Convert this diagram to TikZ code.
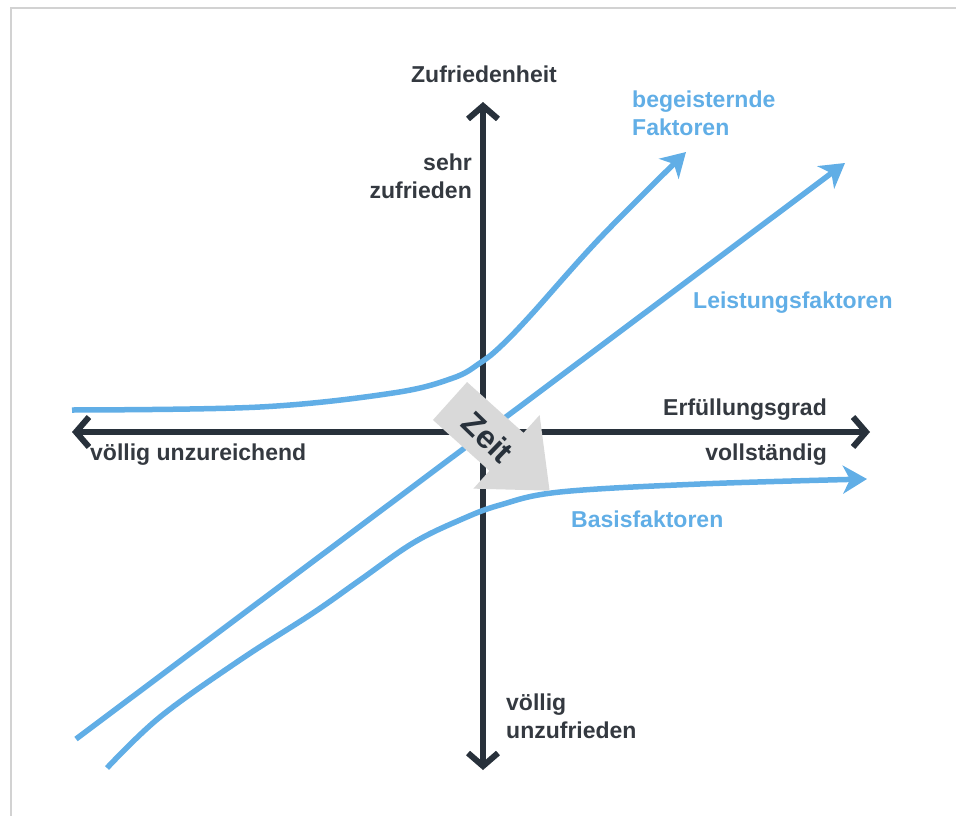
\documentclass[tikz,border=0pt]{standalone}
\usepackage{fontspec}
\setmainfont{Liberation Sans}
\usetikzlibrary{arrows.meta}
\definecolor{achse}{RGB}{40,49,59}
\definecolor{schrift}{RGB}{52,57,64}
\definecolor{kano}{RGB}{97,174,230}
\definecolor{zeitgrau}{RGB}{217,217,217}
\definecolor{rahmen}{RGB}{210,210,210}
\tikzset{
  achsenpfeil/.style={draw=achse,line width=6pt,
    {Straight Barb[length=13pt,width=30pt]}-{Straight Barb[length=13pt,width=30pt]}},
  kurve/.style={draw=kano,line width=5.5pt,
    -{Stealth[length=24pt,width=28pt,inset=7pt]}},
  beschriftung/.style={inner sep=0pt,text=schrift,
    font=\fontsize{23}{28}\selectfont\bfseries},
  faktor/.style={beschriftung,text=kano},
  zeittext/.style={inner sep=0pt,text=achse,
    font=\fontsize{32}{32}\selectfont\bfseries}
}
\begin{document}
\begin{tikzpicture}[x=1pt,y=-1pt]
  \useasboundingbox (0,0) rectangle (956,816);
  % Rahmen
  \draw[rahmen,line width=1.5pt] (11,816) -- (11,8) -- (956,8);

  % Achsen
  \coordinate (xl) at (72,432);
  \coordinate (xr) at (870,432);
  \coordinate (yo) at (483,102);
  \coordinate (yu) at (483,770);
  \draw[achsenpfeil] (xl) -- (xr);
  \draw[achsenpfeil] (yu) -- (yo);

  % Kurven
  \draw[kurve] plot[smooth,tension=0.6] coordinates {
    (72,410) (260,407) (393,393) (453,378) (480,363)
    (500,347) (530,316) (600,238) (686,152)};
  \coordinate (ls) at (76,739);
  \coordinate (lz) at (845,163);
  \draw[kurve] (ls) -- (lz);
  \draw[kurve] plot[smooth,tension=0.6] coordinates {
    (107,768) (160,717) (240,660) (313,613) (360,580)
    (413,543) (460,520) (500,505) (560,492) (700,484) (867,479)};

  % Zeit
  \begin{scope}[shift={(450,401)},rotate=-42]
    \fill[zeitgrau] (0,25.5) -- (76,25.5) -- (76,49.5) -- (134,0)
      -- (76,-49.5) -- (76,-25.5) -- (0,-25.5) -- cycle;
  \end{scope}
  \node[zeittext,rotate=-44] (zeit) at (488,437) {Zeit};

  % Beschriftungen
  \node[beschriftung] (zuf) at (484,74) {Zufriedenheit};
  \node[beschriftung,anchor=east,align=right] (sehr) at (472,176)
    {sehr\\zufrieden};
  \node[beschriftung,anchor=west,align=left] (unzuf) at (506,716)
    {völlig\\unzufrieden};
  \node[beschriftung,anchor=east] (erf) at (827,410) {Erfüllungsgrad};
  \node[beschriftung,anchor=east] (voll) at (827,455) {vollständig};
  \node[beschriftung,anchor=west] (unzur) at (90,455) {völlig unzureichend};
  \node[faktor,anchor=west,align=left] (begeist) at (632,113)
    {begeisternde\\Faktoren};
  \node[faktor,anchor=west] (leist) at (693,303) {Leistungsfaktoren};
  \node[faktor,anchor=west] (basis) at (571,519) {Basisfaktoren};
\end{tikzpicture}
\end{document}
